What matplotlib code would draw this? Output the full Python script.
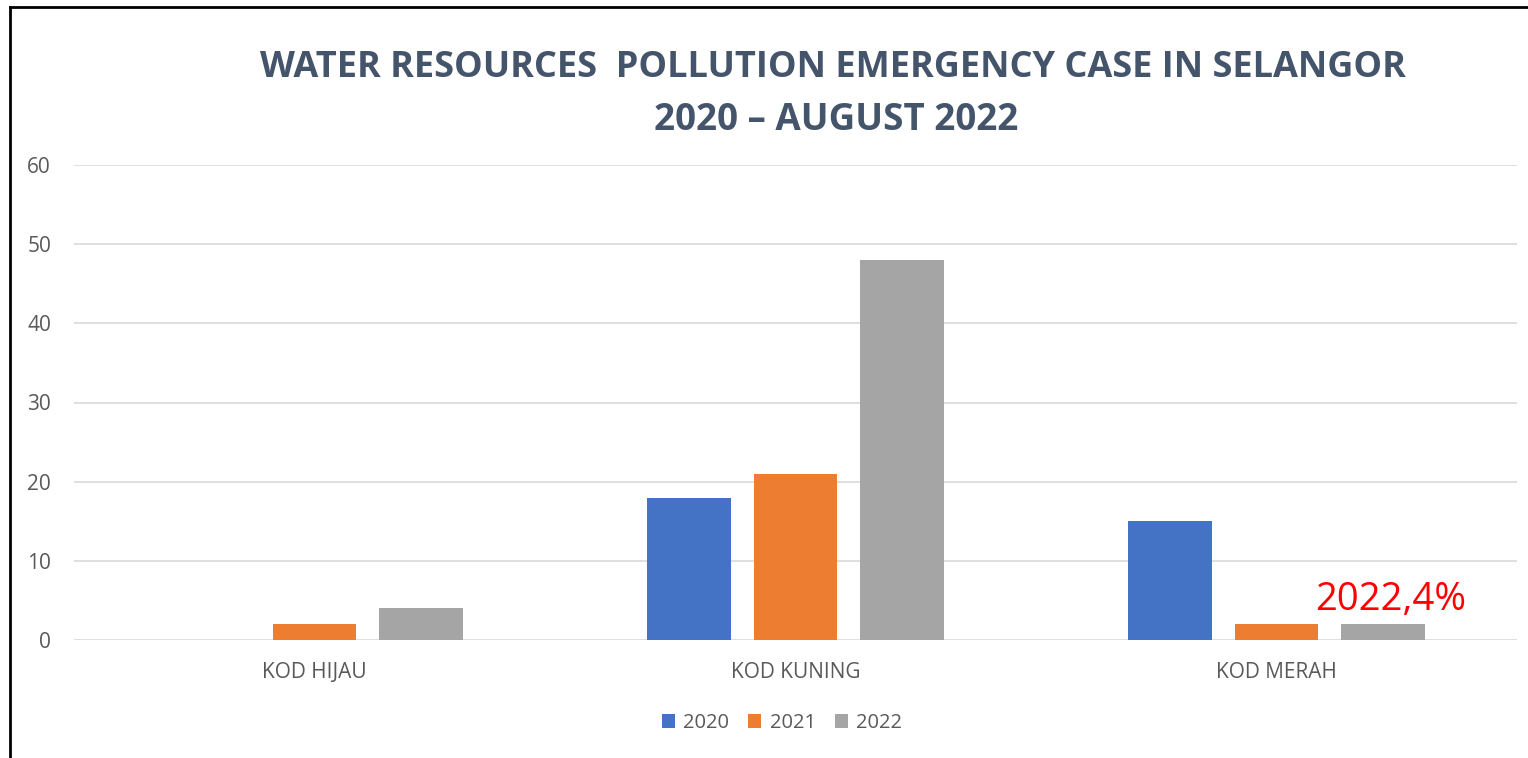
import matplotlib
matplotlib.use("Agg")
from matplotlib import pyplot as plt
from matplotlib.lines import Line2D
import numpy as np

categories = ["KOD HIJAU", "KOD KUNING", "KOD MERAH"]
years = ["2020", "2021", "2022"]
vals2020 = [0, 18, 15]
vals2021 = [2, 21, 2]
vals2022 = [4, 48, 2]
colors = ["#4472C4", "#ED7D31", "#A5A5A5"]

plt.rcParams['font.family'] = ['Open Sans', 'DejaVu Sans']

fig = plt.figure(figsize=(15.28, 7.58), dpi=100)
ax = fig.add_axes([74/1528, 1-640/758, (1517-74)/1528, (640-165)/758])

x = np.arange(len(categories))
w = 0.1746
step = 0.2214
for i, (vals, yr) in enumerate(zip([vals2020, vals2021, vals2022], years)):
	ax.bar(x + (i-1)*step, vals, width=w, color=colors[i], label=yr, zorder=3)

ax.set_xlim(-0.5, 2.5)
ax.set_ylim(0, 60)
ax.set_yticks(range(0, 61, 10))
ax.grid(axis='y', color='#D9D9D9', linewidth=1.2, zorder=0)
for s in ax.spines.values():
	s.set_visible(False)
ax.tick_params(length=0, labelcolor='#595959')
ax.tick_params(axis='y', pad=16.5, labelsize=15)
ax.tick_params(axis='x', pad=16, labelsize=15)
ax.set_xticks(x)
ax.set_xticklabels(categories)

ax.text(2.238, 2.6, "2022,4%", color='red', fontsize=27.5, ha='center', va='bottom', zorder=4)

fig.text(0.545, 1-77/758, "WATER RESOURCES  POLLUTION EMERGENCY CASE IN SELANGOR",
	ha='center', va='baseline', fontsize=26, fontweight='bold', color='#44546A')
fig.text(0.547, 1-130/758, "2020 \u2013 AUGUST 2022",
	ha='center', va='baseline', fontsize=26.5, fontweight='bold', color='#44546A')

fig.legend(loc='center', bbox_to_anchor=(782/1528, 1-723/758), ncol=3, frameon=False,
	fontsize=14.5, labelcolor='#595959', handlelength=0.65, handleheight=0.65,
	columnspacing=0.95, handletextpad=0.4)

fig.add_artist(Line2D([10/1528, 10/1528], [0, 1-7/758], color='black', linewidth=2))
fig.add_artist(Line2D([10/1528, 1], [1-7/758, 1-7/758], color='black', linewidth=2))

fig.savefig("out.png", dpi=100)
